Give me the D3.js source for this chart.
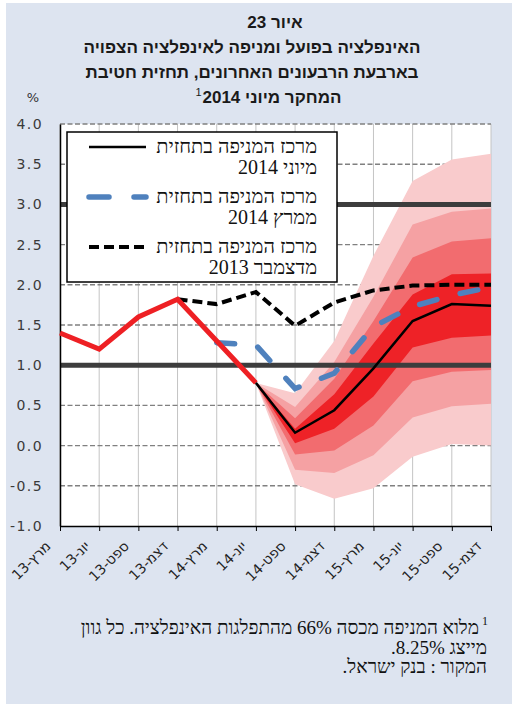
<!DOCTYPE html>
<html>
<head>
<meta charset="utf-8">
<script src="https://cdn.jsdelivr.net/npm/d3@7"></script>
<style>
body { margin: 0; background: #fff; }
</style>
</head>
<body>
<div id="chart"></div>
<script>
// quarters on the x axis
var categories = ["מרץ-13", "יונ-13", "ספט-13", "דצמ-13", "מרץ-14", "יונ-14",
                  "ספט-14", "דצמ-14", "מרץ-15", "יונ-15", "ספט-15", "דצמ-15"];

// actual inflation (red)
var actual = [1.4, 1.2, 1.6, 1.82, 1.3, 0.78];

// centre of the fan, forecasts from three rounds
var forecastJun14 = [null, null, null, null, null, 0.78, 0.16, 0.44, 0.96, 1.55, 1.76, 1.74];
var forecastMar14 = [null, null, null, null, 1.28, 1.25, 0.71, 0.9, 1.48, 1.73, 1.87, 1.97];
var forecastDec13 = [null, null, null, 1.82, 1.76, 1.91, 1.49, 1.78, 1.93, 1.99, 2.0, 2.0];

// fan bands, from יונ-14 onwards (inner = 1, outer = 4)
var fanStart = 5;
var upper1 = [0.78, 0.21, 0.64, 1.27, 1.88, 2.13, 2.14];
var upper2 = [0.78, 0.34, 0.83, 1.55, 2.34, 2.54, 2.58];
var upper3 = [0.78, 0.48, 1.04, 1.85, 2.75, 2.91, 2.95];
var upper4 = [0.78, 0.65, 1.30, 2.36, 3.29, 3.56, 3.63];
var lower1 = [0.78, 0.03, 0.21, 0.61, 1.22, 1.34, 1.37];
var lower2 = [0.78, -0.11, -0.06, 0.25, 0.80, 0.92, 0.94];
var lower3 = [0.78, -0.30, -0.34, -0.12, 0.35, 0.49, 0.52];
var lower4 = [0.78, -0.48, -0.66, -0.53, -0.14, 0.02, 0.0];

var yTicks = [-1.0, -0.5, 0.0, 0.5, 1.0, 1.5, 2.0, 2.5, 3.0, 3.5, 4.0];
var refLines = [1.0, 3.0];

var titleLines = ["איור 23",
                  "האינפלציה בפועל ומניפה לאינפלציה הצפויה",
                  "בארבעת הרבעונים האחרונים, תחזית חטיבת",
                  "המחקר מיוני 2014"];
var legendLabels = [["מרכז המניפה בתחזית", "מיוני 2014"],
                    ["מרכז המניפה בתחזית", "ממרץ 2014"],
                    ["מרכז המניפה בתחזית", "מדצמבר 2013"]];
var notes = ["מלוא המניפה מכסה 66% מהתפלגות האינפלציה. כל גוון",
             "מייצג 8.25%.",
             "המקור : בנק ישראל."];

var RLI = "\u2067", PDI = "\u2069";
function rtl(s) { return RLI + s + PDI; }

var svg = d3.select("#chart")
    .append("svg")
    .attr("width", 514)
    .attr("height", 704)

svg.append("rect")
    .attr("x", 6).attr("y", 3)
    .attr("width", 506).attr("height", 701)
    .attr("fill", "#dde4f0")

var plotL = 60, plotR = 491, plotT = 124, plotB = 526;

var x = d3.scalePoint().domain(categories).range([plotL, plotR]);
var y = d3.scaleLinear().domain([-1, 4]).range([plotB, plotT]);

svg.append("rect")
    .attr("x", plotL).attr("y", plotT)
    .attr("width", plotR - plotL).attr("height", plotB - plotT)
    .attr("fill", "#fff")

// vertical grid
svg.selectAll(".vgrid")
    .data(categories)
    .enter()
        .append("line")
        .attr("class", "vgrid")
        .attr("x1", function(d){return x(d);})
        .attr("x2", function(d){return x(d);})
        .attr("y1", plotT)
        .attr("y2", plotB)
        .attr("stroke", "#c4c4c4")
        .attr("stroke-width", 1)

// dashed horizontal grid
svg.selectAll(".hgrid")
    .data(yTicks.filter(function(d){return d > -1;}))
    .enter()
        .append("line")
        .attr("class", "hgrid")
        .attr("x1", plotL)
        .attr("x2", plotR)
        .attr("y1", function(d){return y(d);})
        .attr("y2", function(d){return y(d);})
        .attr("stroke", "#808080")
        .attr("stroke-width", 1.4)
        .attr("stroke-dasharray", "5,2.5")

// fan
var bands = [
    {lo: lower4, hi: upper4, color: "#f9cbcc"},
    {lo: lower3, hi: upper3, color: "#f5a1a3"},
    {lo: lower2, hi: upper2, color: "#f26c6f"},
    {lo: lower1, hi: upper1, color: "#ee2227"}
];

var area = d3.area()
    .x(function(d){return x(categories[fanStart + d.i]);})
    .y0(function(d){return y(d.lo);})
    .y1(function(d){return y(d.hi);});

svg.selectAll(".band")
    .data(bands)
    .enter()
        .append("path")
        .attr("class", "band")
        .attr("d", function(b){
            return area(b.lo.map(function(v, i){return {i: i, lo: v, hi: b.hi[i]};}));
        })
        .attr("fill", function(b){return b.color;})

// thick reference lines at 1 and 3
svg.selectAll(".ref")
    .data(refLines)
    .enter()
        .append("line")
        .attr("class", "ref")
        .attr("x1", plotL)
        .attr("x2", plotR)
        .attr("y1", function(d){return y(d);})
        .attr("y2", function(d){return y(d);})
        .attr("stroke", "#3d3d3d")
        .attr("stroke-width", 5)

// axes
var yAxis = svg.append("g")
    .attr("transform", "translate(" + plotL + ",0)")
    .call(d3.axisLeft(y).tickValues(yTicks).tickSize(0).tickPadding(17).tickFormat(d3.format(".1f")));
yAxis.select(".domain").attr("stroke", "#000").attr("stroke-width", 1.5);
yAxis.selectAll("text")
    .attr("font-family", "'DejaVu Sans', Verdana, sans-serif")
    .attr("font-size", 14)
    .attr("letter-spacing", 1.4)
    .attr("fill", "#3a3a3a")
    .text(function(d){return d3.format(".1f")(d).replace("−", "-");});

var xAxis = svg.append("g")
    .attr("transform", "translate(0," + plotB + ")")
    .call(d3.axisBottom(x).tickSize(5).tickSizeOuter(0).tickFormat(function(d){return rtl(d);}));
xAxis.select(".domain").attr("stroke", "#000").attr("stroke-width", 1.5);
xAxis.selectAll("line").attr("stroke", "#000");
xAxis.selectAll("text")
    .attr("x", 0).attr("y", 0).attr("dy", 0)
    .attr("text-anchor", "end")
    .attr("transform", "translate(-9,21) rotate(-45)")
    .attr("font-family", "'DejaVu Sans', sans-serif")
    .attr("font-size", 14)
    .attr("fill", "#222")

// series lines
function seriesLine(values) {
    return d3.line()
        .defined(function(d){return d != null;})
        .x(function(d, i){return x(categories[i]);})
        .y(function(d){return y(d);})(values);
}

svg.append("path")
    .attr("d", seriesLine(forecastDec13))
    .attr("fill", "none")
    .attr("stroke", "#000")
    .attr("stroke-width", 4)
    .attr("stroke-dasharray", "10,5")

svg.append("path")
    .attr("d", seriesLine(forecastMar14))
    .attr("fill", "none")
    .attr("stroke", "#4f81bd")
    .attr("stroke-width", 5.5)
    .attr("stroke-linecap", "round")
    .attr("stroke-dasharray", "18,24")

svg.append("path")
    .attr("d", seriesLine(actual))
    .attr("fill", "none")
    .attr("stroke", "#ee2024")
    .attr("stroke-width", 5)

svg.append("path")
    .attr("d", seriesLine(forecastJun14))
    .attr("fill", "none")
    .attr("stroke", "#000")
    .attr("stroke-width", 2.5)

// legend
var legend = svg.append("g");
legend.append("rect")
    .attr("x", 67).attr("y", 132)
    .attr("width", 270).attr("height", 150)
    .attr("fill", "#fff")
    .attr("stroke", "#000")
    .attr("stroke-width", 1.5)

var legendStyles = [
    {stroke: "#000", width: 2.5, dash: null, cap: "butt"},
    {stroke: "#4f81bd", width: 5.5, dash: "20,25", cap: "round"},
    {stroke: "#000", width: 4, dash: "10,5", cap: "butt"}
];

legendStyles.forEach(function(s, i){
    var ly = 147 + i * 50;
    legend.append("line")
        .attr("x1", 89).attr("x2", 146)
        .attr("y1", ly).attr("y2", ly)
        .attr("stroke", s.stroke)
        .attr("stroke-width", s.width)
        .attr("stroke-linecap", s.cap)
        .attr("stroke-dasharray", s.dash)
    legendLabels[i].forEach(function(t, j){
        legend.append("text")
            .attr("x", 317)
            .attr("y", ly + 6 + j * 21)
            .attr("text-anchor", "end")
            .attr("font-family", "'Liberation Serif', 'DejaVu Sans', serif")
            .attr("font-size", 20)
            .attr("fill", "#111")
            .text(rtl(t))
    });
});

// title
var titleX = [275, 252, 252, 272];
var title = svg.append("g");
titleLines.forEach(function(t, i){
    title.append("text")
        .attr("x", titleX[i])
        .attr("y", 28 + i * 25)
        .attr("text-anchor", "middle")
        .attr("font-family", "'Liberation Sans', Arial, sans-serif")
        .attr("font-weight", "bold")
        .attr("font-size", 17)
        .attr("fill", "#1a1a1a")
        .text(rtl(t))
});
var last = title.selectAll("text").nodes()[titleLines.length - 1];
var lastLen = last.getComputedTextLength();
title.append("text")
    .attr("x", titleX[3] - lastLen / 2 - 1)
    .attr("y", 96)
    .attr("text-anchor", "end")
    .attr("font-family", "'Liberation Sans', Arial, sans-serif")
    .attr("font-size", 11)
    .attr("fill", "#1a1a1a")
    .text("1")

svg.append("text")
    .attr("x", 33).attr("y", 102)
    .attr("text-anchor", "middle")
    .attr("font-family", "'DejaVu Sans', sans-serif")
    .attr("font-size", 13)
    .attr("fill", "#333")
    .text("%")

// notes
notes.forEach(function(t, i){
    svg.append("text")
        .attr("x", i == 0 ? 479 : 487)
        .attr("y", 634 + i * 19.5)
        .attr("text-anchor", "end")
        .attr("font-family", "'Liberation Serif', 'DejaVu Sans', serif")
        .attr("font-size", 19)
        .attr("fill", "#111")
        .text(rtl(t))
});
svg.append("text")
    .attr("x", 488).attr("y", 625)
    .attr("text-anchor", "end")
    .attr("font-family", "'Liberation Serif', serif")
    .attr("font-size", 12)
    .attr("fill", "#111")
    .text("1")
</script>
</body>
</html>
